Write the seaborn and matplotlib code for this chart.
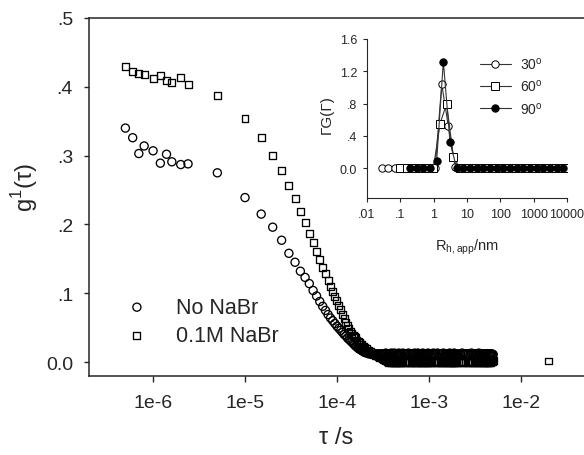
import numpy as np
import seaborn as sns
import matplotlib.pyplot as plt
from matplotlib.ticker import FixedLocator, FixedFormatter, NullLocator

# =============================================================================
# Data
# =============================================================================
# correlator delay times in microseconds, shared by both series
tau_us = [0.5, 0.6, 0.7, 0.8, 1.0, 1.2, 1.4, 1.6, 2.0, 2.4,
          5, 10, 15, 20, 25, 30, 35, 40, 45, 50,
          55, 60, 65, 70, 75, 80, 85, 90, 95, 100,
          105, 110, 115, 120, 125, 130, 135, 140, 145, 150,
          155, 160, 165, 170, 175, 180, 185, 190, 195, 200,
          210, 220, 230, 240, 250, 260, 270, 280, 290, 300,
          310, 320, 330, 340, 350, 360, 370, 380, 390, 400,
          410, 420, 430, 440, 450, 460, 470, 480, 490, 500,
          520, 540, 560, 580, 600, 620, 640, 660, 680, 700,
          720, 740, 760, 780, 800, 820, 840, 860, 880, 900,
          920, 940, 960, 980, 1000, 1040, 1080, 1120, 1160, 1200,
          1240, 1280, 1320, 1360, 1400, 1440, 1480, 1520, 1560, 1600,
          1640, 1680, 1720, 1760, 1800, 1840, 1880, 1920, 1960, 2000,
          2100, 2200, 2300, 2400, 2500, 2600, 2700, 2800, 2900, 3000,
          3100, 3200, 3300, 3400, 3500, 3600, 3700, 3800, 3900, 4000,
          4100, 4200, 4300, 4400, 4500, 4600, 4700, 4800, 4900, 5000]

g_no_salt = [0.340, 0.326, 0.303, 0.314, 0.307, 0.289, 0.302, 0.291, 0.287, 0.288,
             0.275, 0.239, 0.215, 0.196, 0.177, 0.158, 0.145, 0.132, 0.123, 0.114,
             0.104, 0.096, 0.088, 0.081, 0.075, 0.069, 0.064, 0.060, 0.056, 0.052,
             0.049, 0.046, 0.043, 0.040, 0.038, 0.035, 0.033, 0.031, 0.029, 0.027,
             0.025, 0.023, 0.022, 0.020, 0.019, 0.018, 0.017, 0.016, 0.015, 0.014,
             0.013, 0.012, 0.012, 0.011, 0.011, 0.011, 0.012, 0.011, 0.012, 0.011,
             0.012, 0.011, 0.012, 0.013, 0.012, 0.011, 0.012, 0.012, 0.013, 0.011,
             0.012, 0.013, 0.011, 0.012, 0.012, 0.011, 0.013, 0.012, 0.011, 0.012,
             0.013, 0.012, 0.011, 0.012, 0.013, 0.012, 0.012, 0.011, 0.012, 0.013,
             0.011, 0.012, 0.013, 0.012, 0.011, 0.012, 0.012, 0.013, 0.011, 0.012,
             0.012, 0.011, 0.012, 0.013, 0.012, 0.011, 0.012, 0.013, 0.012, 0.011,
             0.013, 0.012, 0.011, 0.012, 0.012, 0.013, 0.011, 0.012, 0.012, 0.011,
             0.012, 0.013, 0.012, 0.011, 0.012, 0.012, 0.013, 0.011, 0.012, 0.012,
             0.011, 0.012, 0.013, 0.012, 0.011, 0.012, 0.012, 0.011, 0.013, 0.012,
             0.012, 0.011, 0.012, 0.012, 0.013, 0.011, 0.012, 0.011, 0.012, 0.012,
             0.011, 0.012, 0.012, 0.011, 0.012, 0.011, 0.012, 0.012, 0.011, 0.011]

g_salt = [0.429, 0.422, 0.420, 0.418, 0.412, 0.416, 0.409, 0.406, 0.413, 0.404,
          0.387, 0.354, 0.326, 0.300, 0.278, 0.256, 0.237, 0.219, 0.203, 0.187,
          0.174, 0.161, 0.149, 0.138, 0.128, 0.118, 0.110, 0.102, 0.095, 0.089,
          0.082, 0.076, 0.069, 0.063, 0.058, 0.053, 0.049, 0.045, 0.042, 0.039,
          0.037, 0.035, 0.032, 0.030, 0.028, 0.026, 0.025, 0.023, 0.022, 0.021,
          0.019, 0.017, 0.015, 0.013, 0.012, 0.010, 0.009, 0.008, 0.007, 0.006,
          0.005, 0.004, 0.003, 0.002, 0.001, 0.000, 0.001, -0.001, 0.000, 0.001,
          0.000, -0.001, 0.000, 0.001, 0.000, -0.001, 0.001, 0.000, -0.001, 0.000,
          0.001, 0.000, -0.001, 0.000, 0.001, 0.000, 0.000, -0.001, 0.001, 0.000,
          -0.001, 0.000, 0.001, 0.000, -0.001, 0.000, 0.001, 0.000, -0.001, 0.001,
          0.000, -0.001, 0.000, 0.001, 0.000, 0.000, -0.001, 0.001, 0.000, -0.001,
          0.000, 0.001, 0.000, -0.001, 0.000, 0.001, -0.001, 0.000, 0.001, 0.000,
          -0.001, 0.000, 0.001, 0.000, -0.001, 0.000, 0.000, 0.001, -0.001, 0.000,
          0.001, 0.000, -0.001, 0.000, 0.001, 0.000, -0.001, 0.000, 0.001, 0.000,
          0.000, -0.001, 0.001, 0.000, -0.001, 0.000, 0.001, 0.000, -0.001, 0.000,
          0.001, 0.000, -0.001, 0.000, 0.001, 0.000, 0.000, 0.001, 0.001, 0.002]
# one extra long-time channel only in the salt run
tau_salt_extra_us = [20000]
g_salt_extra = [0.0015]

main_labels = ["No NaBr", "0.1M NaBr"]
main_xticks = [1e-6, 1e-5, 1e-4, 1e-3, 1e-2]
main_xticklabels = ["1e-6", "1e-5", "1e-4", "1e-3", "1e-2"]
main_yticks = [0.0, 0.1, 0.2, 0.3, 0.4, 0.5]
main_yticklabels = ["0.0", ".1", ".2", ".3", ".4", ".5"]

# inset: size distributions at three scattering angles
r30 = [0.028, 0.044, 0.069, 0.11, 0.17, 0.28, 0.44, 0.69, 1.1, 1.75, 2.75, 4.4, 6.9, 11,
       17, 28, 44, 69, 110, 175, 275, 440, 690, 1100, 1750, 2750, 4400, 6900]
G30 = [0, 0, 0, 0, 0, 0, 0, 0, 0, 1.04, 0.52, 0.02, 0, 0,
       0, 0, 0, 0, 0, 0, 0, 0, 0, 0, 0, 0, 0, 0]
r60 = [0.098, 0.155, 0.245, 0.39, 0.62, 0.98, 1.55, 2.45, 3.9, 6.2, 9.8, 15.5, 24.5,
       39, 62, 98, 155, 245, 390, 620, 980, 1550, 2450, 3900, 6200, 9800]
G60 = [0, 0, 0, 0, 0, 0, 0.55, 0.80, 0.14, 0, 0, 0, 0,
       0, 0, 0, 0, 0, 0, 0, 0, 0, 0, 0, 0, 0]
r90 = [0.195, 0.31, 0.49, 0.78, 1.23, 1.95, 3.1, 4.9, 7.8, 12.3, 19.5, 31,
       49, 78, 123, 195, 310, 490, 780, 1230, 1950, 3100, 4900, 7800]
G90 = [0, 0, 0, 0, 0.09, 1.32, 0.32, 0, 0, 0, 0, 0,
       0, 0, 0, 0, 0, 0, 0, 0, 0, 0, 0, 0]
angle_labels = ["30$^\\mathregular{o}$", "60$^\\mathregular{o}$", "90$^\\mathregular{o}$"]
inset_xticks = [0.01, 0.1, 1, 10, 100, 1000, 10000]
inset_xticklabels = [".01", ".1", "1", "10", "100", "1000", "10000"]
inset_yticks = [0.0, 0.4, 0.8, 1.2, 1.6]
inset_yticklabels = ["0.0", ".4", ".8", "1.2", "1.6"]
# =============================================================================

sns.set_style("ticks")
plt.rcParams['font.family'] = ['Liberation Sans', 'DejaVu Sans']
plt.rcParams['mathtext.fontset'] = 'custom'
plt.rcParams['mathtext.rm'] = 'Liberation Sans'

tau = np.array(tau_us) * 1e-6
tau_salt = np.array(tau_us + tau_salt_extra_us) * 1e-6

fig = plt.figure(figsize=(5.84, 4.56), dpi=100)
W, H = 584, 456

# ---- main axes -------------------------------------------------------------
ax = fig.add_axes([89 / W, (H - 377) / H, (W - 89) / W, 358 / H])
sns.scatterplot(x=tau, y=g_no_salt, marker='o', s=34, color='black',
                linewidth=0.95, label=main_labels[0], ax=ax, zorder=3)
sns.scatterplot(x=tau_salt, y=g_salt + g_salt_extra, marker='s', s=25, color='black',
                linewidth=0.95, label=main_labels[1], ax=ax, zorder=4)
# hollow markers: outlines only
for coll in ax.collections:
    coll.set_facecolor('none')
    coll.set_edgecolor('black')
ax.set_xscale('log')
ax.set_xlim(2.01e-7, 4.86e-2)
ax.set_ylim(-0.0203, 0.5)
ax.xaxis.set_major_locator(FixedLocator(main_xticks))
ax.xaxis.set_major_formatter(FixedFormatter(main_xticklabels))
ax.xaxis.set_minor_locator(NullLocator())
ax.yaxis.set_major_locator(FixedLocator(main_yticks))
ax.yaxis.set_major_formatter(FixedFormatter(main_yticklabels))
ax.tick_params(axis='x', direction='out', length=4.3, width=1.0, labelsize=14, pad=9)
ax.tick_params(axis='y', direction='out', length=3.5, width=1.0, labelsize=14, pad=8)
for side in ['left', 'bottom', 'top']:
    ax.spines[side].set_linewidth(1.1)
ax.spines['right'].set_visible(False)
ax.set_xlabel("τ /s", fontsize=17)
ax.set_ylabel("g$^\\mathregular{1}$(τ)", fontsize=17)
ax.xaxis.set_label_coords(0.5, -0.14)
ax.yaxis.set_label_coords(-0.1, 0.53)

handles, labels = ax.get_legend_handles_labels()
ax.legend(handles, labels, loc='center left', bbox_to_anchor=(0.075, 0.152),
          frameon=False, fontsize=15.5, borderpad=0, handlelength=1.0,
          handletextpad=1.3, labelspacing=0.35, borderaxespad=0)

# ---- inset ---------------------------------------------------------------
ax_in = fig.add_axes([367 / W, (H - 199) / H, 200 / W, 159 / H])
line_kw = dict(color='#333333', linewidth=0.8, markersize=5.3, markeredgecolor='black',
               markeredgewidth=0.7)
sns.lineplot(x=r30, y=G30, marker='o', markerfacecolor='white', label=angle_labels[0],
             ax=ax_in, **line_kw)
sns.lineplot(x=r60, y=G60, marker='s', markerfacecolor='white', label=angle_labels[1],
             ax=ax_in, **line_kw)
sns.lineplot(x=r90, y=G90, marker='o', markerfacecolor='black', label=angle_labels[2],
             ax=ax_in, **line_kw)
ax_in.set_xscale('log')
ax_in.set_xlim(0.01, 10000)
ax_in.set_ylim(-0.368, 1.6)
ax_in.xaxis.set_major_locator(FixedLocator(inset_xticks))
ax_in.xaxis.set_major_formatter(FixedFormatter(inset_xticklabels))
ax_in.xaxis.set_minor_locator(NullLocator())
ax_in.yaxis.set_major_locator(FixedLocator(inset_yticks))
ax_in.yaxis.set_major_formatter(FixedFormatter(inset_yticklabels))
ax_in.tick_params(direction='out', length=3, width=0.8, labelsize=9, pad=4)
ax_in.spines['top'].set_visible(False)
ax_in.spines['right'].set_visible(False)
for side in ['left', 'bottom']:
    ax_in.spines[side].set_linewidth(0.8)
ax_in.patch.set_alpha(0)
ax_in.set_xlabel("R$_\\mathregular{h,app}$/nm", fontsize=10.5)
ax_in.set_ylabel("ΓG(Γ)", fontsize=11)
ax_in.xaxis.set_label_coords(0.5, -0.24)
ax_in.yaxis.set_label_coords(-0.165, 0.53)
ax_in.legend(loc='center left', bbox_to_anchor=(0.565, 0.704), frameon=False,
             fontsize=10, borderpad=0, handlelength=2.2, handletextpad=0.7,
             labelspacing=0.45, borderaxespad=0)

fig.savefig("out.png", dpi=100)
